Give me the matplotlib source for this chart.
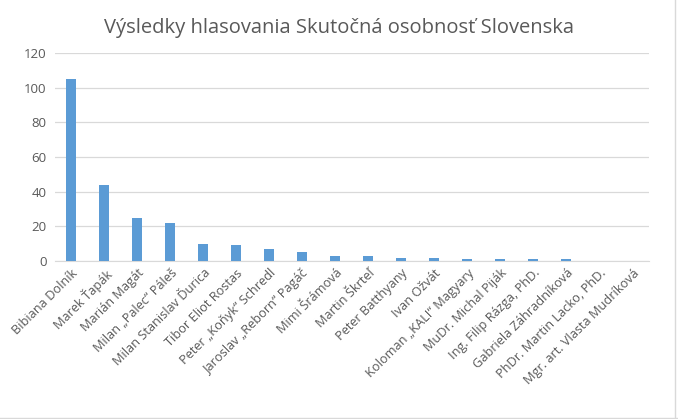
import matplotlib
matplotlib.use("Agg")
import matplotlib.pyplot as plt
import numpy as np

#%% data
mena = ["Bibiana Dolník", "Marek Ťapák", "Marián Magát", "Milan „Palec“ Páleš",
        "Milan Stanislav Ďurica", "Tibor Eliot Rostas", "Peter „Koňyk“ Schredl",
        "Jaroslav „Reborn“ Pagáč", "Mimi Šrámová", "Martin Škrteľ",
        "Peter Batthyany", "Ivan Ožvát", "Koloman „KALI“ Magyary",
        "MuDr. Michal Piják", "Ing. Filip Rázga, PhD.", "Gabriela Záhradníková",
        "PhDr. Martin Lacko, PhD.", "Mgr. art. Vlasta Mudríková"]
hlasy = [105, 44, 25, 22, 10, 9, 7, 5, 3, 3, 2, 2, 1, 1, 1, 1, 0, 0]
y_ticks = [0, 20, 40, 60, 80, 100, 120]
titulok = "Výsledky hlasovania Skutočná osobnosť Slovenska"

plt.rcParams['font.family'] = ['Open Sans', 'DejaVu Sans']
sivá = '#595959'

fig = plt.figure(figsize=(6.78, 4.19), dpi=100)
ax = fig.add_axes([0.081, 0.377, 0.876, 0.497])

x = np.arange(len(mena))
ax.bar(x, hlasy, width=0.3, color='#5B9BD5', zorder=3)

ax.set_xlim(-0.5, len(mena) - 0.5)
ax.set_ylim(0, 120)
ax.set_yticks(y_ticks)
ax.set_yticklabels([str(t) for t in y_ticks], fontsize=9.5, color=sivá)
ax.set_xticks(x)
ax.set_xticklabels(mena, rotation=45, ha='right', rotation_mode='anchor',
                   fontsize=9.2, color=sivá)
ax.tick_params(length=0, pad=6)
ax.tick_params(axis='x', pad=4)
ax.grid(axis='y', color='#D9D9D9', lw=0.9, zorder=0)
for s in ['top', 'right', 'left']:
    ax.spines[s].set_visible(False)
ax.spines['bottom'].set_color('#D9D9D9')

fig.text(0.5, 0.932, titulok, ha='center', va='center', fontsize=14.5, color=sivá)

# okraj grafu
fig.add_artist(plt.Line2D([0.996, 0.996], [0, 1], color='#D9D9D9', lw=1))
fig.add_artist(plt.Line2D([0, 1], [0.003, 0.003], color='#D9D9D9', lw=1))

fig.savefig("out.png", dpi=100)
